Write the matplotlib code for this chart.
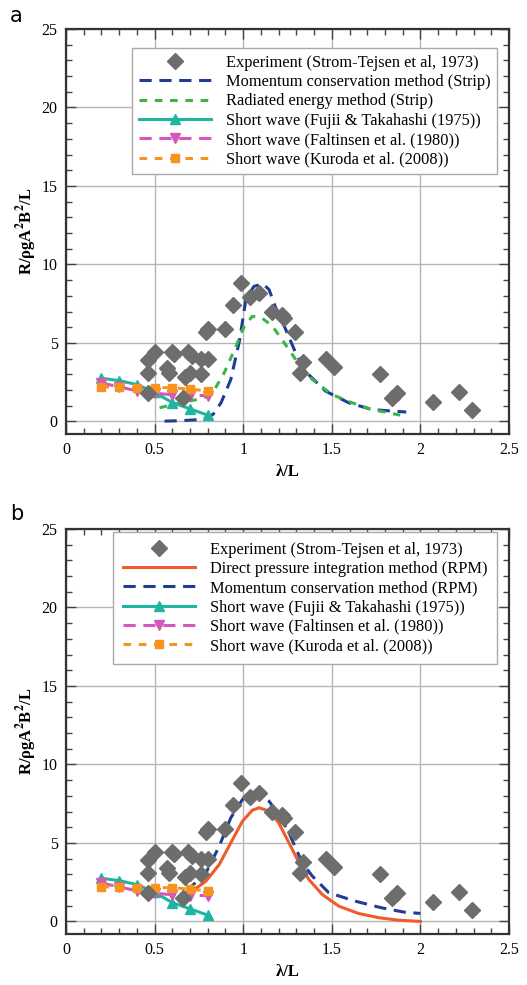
import matplotlib
matplotlib.use("Agg")
import matplotlib.pyplot as plt
from matplotlib.ticker import MultipleLocator

plt.rcParams['font.family'] = ['Liberation Serif', 'DejaVu Serif']
plt.rcParams['mathtext.fontset'] = 'stix'

# Experiment (Strom-Tejsen et al, 1973)
exp_x = [0.46, 0.50, 0.46, 0.46, 0.57, 0.58, 0.60, 0.61, 0.69, 0.71, 0.67, 0.70,
         0.76, 0.80, 0.76, 0.66, 0.79, 0.80, 0.90, 0.94, 0.99, 1.04, 1.09, 1.16,
         1.22, 1.23, 1.29, 1.34, 1.32, 1.47, 1.51, 1.77, 1.84, 1.87, 2.07, 2.22, 2.29]
exp_y = [3.9, 4.4, 3.1, 1.8, 3.4, 3.1, 4.4, 4.3, 4.4, 4.2, 2.8, 3.1,
         4.0, 4.0, 3.0, 1.5, 5.7, 5.9, 5.9, 7.4, 8.8, 7.9, 8.2, 7.0,
         6.8, 6.6, 5.7, 3.8, 3.1, 4.0, 3.5, 3.0, 1.5, 1.8, 1.25, 1.85, 0.75]

# Short-wave formulas
sw_x = [0.2, 0.3, 0.4, 0.5, 0.6, 0.7, 0.8]
fujii_y = [2.75, 2.6, 2.35, 1.85, 1.2, 0.8, 0.4]
faltinsen_y = [2.45, 2.2, 1.95, 1.8, 1.7, 1.65, 1.65]
kuroda_y = [2.2, 2.2, 2.15, 2.15, 2.15, 2.05, 1.95]

# (a) Strip theory
mom_strip_x = [0.556, 0.65, 0.77, 0.83, 0.875, 0.93, 0.98, 1.015, 1.06, 1.11, 1.146,
               1.18, 1.24, 1.296, 1.35, 1.465, 1.595, 1.726, 1.84, 1.92]
mom_strip_y = [0.02, 0.05, 0.13, 0.45, 1.19, 2.67, 5.2, 7.77, 8.6, 8.77, 8.4,
               7.34, 5.86, 4.37, 3.2, 1.93, 1.19, 0.76, 0.66, 0.6]
rad_strip_x = [0.528, 0.66, 0.77, 0.83, 0.893, 0.96, 1.006, 1.052, 1.105, 1.165,
               1.22, 1.296, 1.39, 1.50, 1.614, 1.726, 1.82, 1.886]
rad_strip_y = [0.87, 1.23, 1.45, 1.87, 3.1, 4.8, 6.07, 6.7, 6.6, 6.07,
               5.2, 3.95, 2.67, 1.72, 1.19, 0.76, 0.55, 0.4]

# (b) RPM
dp_rpm_x = [0.72, 0.79, 0.865, 0.94, 0.996, 1.052, 1.09, 1.146, 1.2, 1.258, 1.315,
            1.37, 1.446, 1.54, 1.65, 1.764, 1.876, 2.0]
dp_rpm_y = [2.0, 2.57, 3.63, 5.22, 6.39, 7.09, 7.24, 7.03, 6.29, 5.01, 3.74,
            2.68, 1.72, 0.97, 0.51, 0.24, 0.08, 0.0]
mom_rpm_x = [0.68, 0.79, 0.865, 0.93, 0.996, 1.052, 1.1, 1.146, 1.2, 1.258, 1.333,
             1.39, 1.483, 1.633, 1.78, 1.91, 2.0]
mom_rpm_y = [1.93, 3.1, 4.8, 6.6, 7.77, 8.2, 8.09, 7.66, 6.82, 5.65, 3.74,
             2.89, 1.83, 1.29, 0.87, 0.59, 0.51]

C_EXP = '#6d6d6d'
C_BLUE = '#1f3d96'
C_GREEN = '#3ab54a'
C_TEAL = '#1fb5a0'
C_MAG = '#d457b9'
C_ORANGE = '#f7931e'
C_RED = '#f15a29'

W, H = 527, 985
fig = plt.figure(figsize=(W / 100, H / 100), dpi=100)

def make_axes(top_px):
    left, right, bottom = 66, 509, top_px + 405
    return fig.add_axes([left / W, 1 - bottom / H, (right - left) / W, 405 / H])

def style(ax):
    ax.set_xlim(0, 2.5)
    ax.set_ylim(-0.8, 25)
    ax.xaxis.set_major_locator(MultipleLocator(0.5))
    ax.xaxis.set_minor_locator(MultipleLocator(0.1))
    ax.yaxis.set_major_locator(MultipleLocator(5))
    ax.yaxis.set_minor_locator(MultipleLocator(1))
    ax.set_xticks([0, 0.5, 1, 1.5, 2, 2.5])
    ax.set_xticklabels(['0', '0.5', '1', '1.5', '2', '2.5'])
    ax.grid(True, which='major', color='#b5b5b5', linewidth=1.0)
    ax.set_axisbelow(True)
    ax.tick_params(which='both', direction='in', top=True, right=True,
                   labelsize=11.5, color='#444444', pad=6)
    ax.tick_params(which='major', length=7, width=1.0)
    ax.tick_params(which='minor', length=4, width=1.0)
    for s in ax.spines.values():
        s.set_color('#333333')
        s.set_linewidth(1.6)
    ax.set_xlabel('λ/L', fontsize=12, fontweight='bold', labelpad=4)
    ax.set_ylabel(r'R/ρgA$\mathbf{^2}$B$\mathbf{^2}$/L', fontsize=12,
                  fontweight='bold', labelpad=2)

def short_waves(ax):
    ax.plot(sw_x, fujii_y, '-', color=C_TEAL, lw=2.2, marker='^', ms=7,
            label='Short wave (Fujii & Takahashi (1975))')
    ax.plot(sw_x, faltinsen_y, '--', color=C_MAG, lw=2.2, marker='v', ms=7,
            dashes=(4, 2.5), label='Short wave (Faltinsen et al. (1980))')
    ax.plot(sw_x, kuroda_y, '--', color=C_ORANGE, lw=2.2, marker='s', ms=6,
            dashes=(2.5, 2.5), label='Short wave (Kuroda et al. (2008))')

def experiment(ax):
    ax.plot(exp_x, exp_y, 'D', color=C_EXP, ms=8, mec=C_EXP, ls='none',
            label='Experiment (Strom-Tejsen et al, 1973)', zorder=2.5)

LEG = dict(loc='upper right', borderaxespad=0, fontsize=11.8, handlelength=4.4,
           handletextpad=0.9, numpoints=1, fancybox=False,
           framealpha=1, edgecolor='#aaaaaa')

# Panel a
axa = make_axes(29)
style(axa)
experiment(axa)
axa.plot(mom_strip_x, mom_strip_y, '--', color=C_BLUE, lw=2.2, dashes=(4, 2.5),
         label='Momentum conservation method (Strip)')
axa.plot(rad_strip_x, rad_strip_y, '--', color=C_GREEN, lw=2.2, dashes=(2.5, 2.5),
         label='Radiated energy method (Strip)')
short_waves(axa)
la = axa.legend(bbox_to_anchor=(0.973, 0.953), labelspacing=0.2, borderpad=0.42, **LEG)
la.get_frame().set_linewidth(1.0)

# Panel b
axb = make_axes(529)
style(axb)
experiment(axb)
axb.plot(dp_rpm_x, dp_rpm_y, '-', color=C_RED, lw=2.2,
         label='Direct pressure integration method (RPM)')
axb.plot(mom_rpm_x, mom_rpm_y, '--', color=C_BLUE, lw=2.2, dashes=(4, 2.5),
         label='Momentum conservation method (RPM)')
short_waves(axb)
lb = axb.legend(bbox_to_anchor=(0.973, 0.993), labelspacing=0.2, borderpad=0.6, **LEG)
lb.get_frame().set_linewidth(1.0)

fig.text(10 / W, 1 - 16 / H, 'a', fontsize=15, family='DejaVu Sans', va='center')
fig.text(10 / W, 1 - 514 / H, 'b', fontsize=15, family='DejaVu Sans', va='center')

fig.savefig('out.png', dpi=100)
